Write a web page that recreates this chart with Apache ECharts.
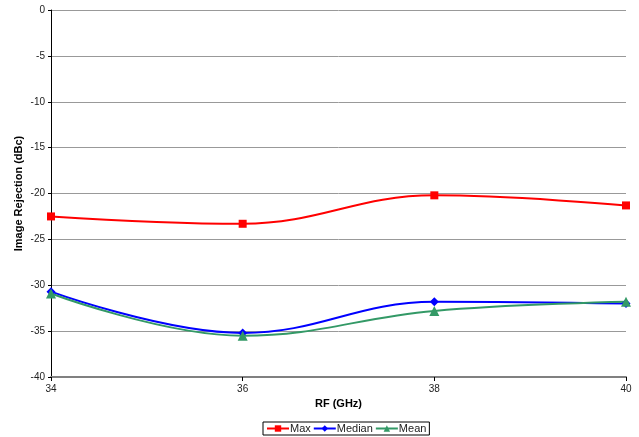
<!DOCTYPE html>
<html><head><meta charset="utf-8">
<script src="https://cdn.jsdelivr.net/npm/echarts@6/dist/echarts.min.js"></script>
<style>html,body{margin:0;padding:0;background:#fff}#c{width:639px;height:437px}</style>
</head><body><div id="c"></div>
<script>
const freqs = [34, 36, 38, 40];
const maxVals = [-22.5, -23.3, -20.2, -21.3];
const medianVals = [-30.7, -35.2, -31.8, -32.0];
const meanVals = [-30.9, -35.5, -32.8, -31.8];
const yTicks = [0, -5, -10, -15, -20, -25, -30, -35, -40];

const pair = v => freqs.map((f, i) => [f, v[i]]);
const font = 'Liberation Sans, Arial, sans-serif';
const chart = echarts.init(document.getElementById('c'));
chart.setOption({
  animation: false,
  grid: {left: 51, right: 13, top: 10, bottom: 60},
  xAxis: {
    type: 'value', min: 34, max: 40, interval: 2,
    name: 'RF (GHz)', nameLocation: 'middle', nameGap: 21,
    nameTextStyle: {fontFamily: font, fontSize: 11, fontWeight: 'bold', color: '#000'},
    axisLine: {onZero: false, lineStyle: {color: '#808080', width: 2}},
    axisTick: {show: true, length: 4, lineStyle: {color: '#000'}},
    axisLabel: {fontFamily: font, fontSize: 10, color: '#222', margin: 7},
    splitLine: {show: false}
  },
  yAxis: {
    type: 'value', min: -40, max: 0, interval: 5,
    name: 'Image Rejection (dBc)', nameLocation: 'middle', nameGap: 27,
    nameMoveOverlap: false,
    nameTextStyle: {fontFamily: font, fontSize: 11, fontWeight: 'bold', color: '#000'},
    axisLine: {show: true, onZero: false, lineStyle: {color: '#000', width: 1}},
    axisTick: {show: true, length: 3, lineStyle: {color: '#000'}},
    axisLabel: {fontFamily: font, fontSize: 10, color: '#222', margin: 6,
      formatter: v => yTicks.includes(v) ? String(v) : ''},
    splitLine: {show: true, lineStyle: {color: '#999999', width: 1}}
  },
  legend: {
    bottom: 2, left: 263,
    borderColor: '#000', borderWidth: 1, padding: [1, 3],
    itemGap: 2, itemWidth: 22, itemHeight: 8,
    textStyle: {fontFamily: font, fontSize: 11, color: '#222', padding: [0,0,0,-4]},
    data: ['Max', 'Median', 'Mean']
  },
  series: [
    {name: 'Max', type: 'line', data: pair(maxVals), smooth: 0.4,
     symbol: 'rect', symbolSize: 8, color: '#ff0000', lineStyle: {width: 2}},
    {name: 'Median', type: 'line', data: pair(medianVals), smooth: 0.4,
     symbol: 'diamond', symbolSize: 9, color: '#0000ff', lineStyle: {width: 2}},
    {name: 'Mean', type: 'line', data: pair(meanVals), smooth: 0.4,
     symbol: 'triangle', symbolSize: 10, color: '#339966', lineStyle: {width: 2}}
  ]
});
</script></body></html>
